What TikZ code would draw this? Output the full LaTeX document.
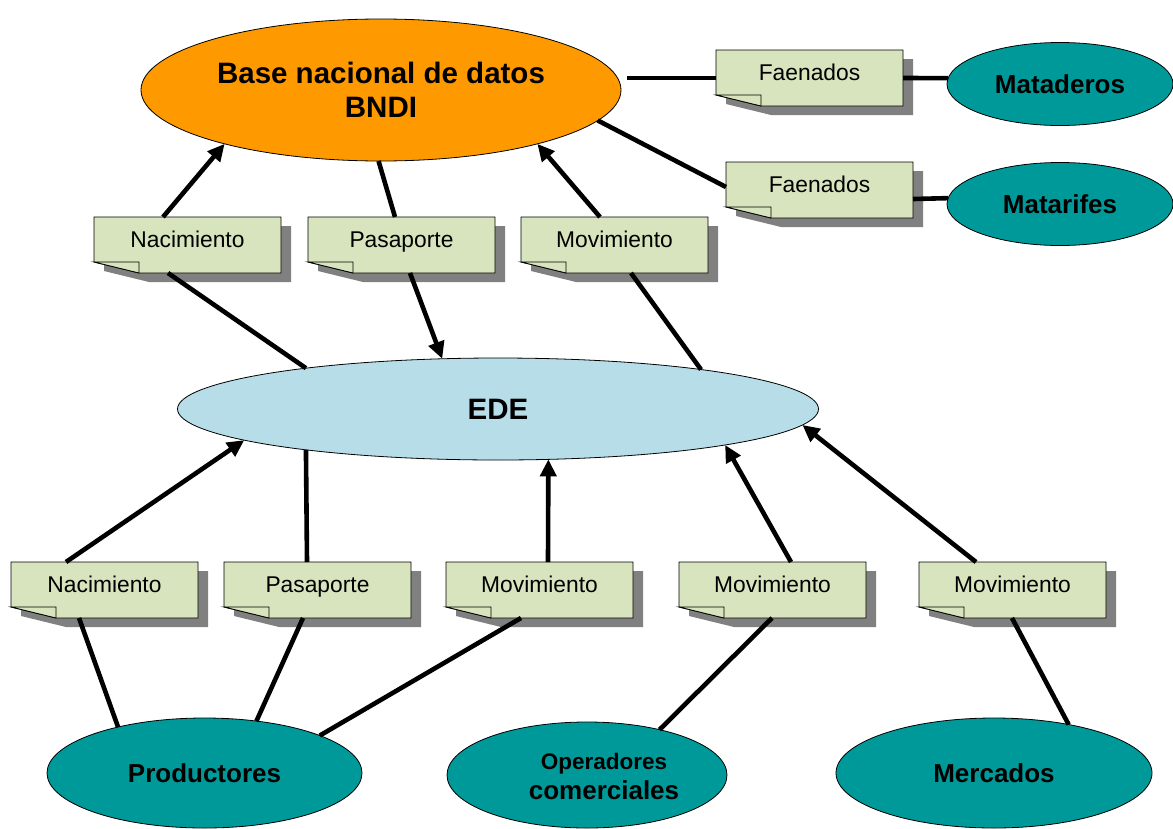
\documentclass[tikz,border=0pt]{standalone}
\usepackage{fontspec}
\setmainfont{Liberation Sans}
\usetikzlibrary{shapes.geometric,arrows.meta,calc}
\definecolor{notegreen}{RGB}{215,228,189}
\definecolor{edeblue}{RGB}{183,222,232}
\definecolor{bndiorange}{RGB}{255,153,0}
\definecolor{tealc}{RGB}{0,153,153}
\definecolor{shadowgray}{RGB}{128,128,128}
\tikzset{
  notetext/.style={inner sep=0pt, outer sep=0pt, minimum width=187pt, minimum height=56pt,
    text height=16pt, text depth=12pt, font=\fontsize{22.8}{26}\selectfont},
  conn/.style={line width=4.6pt},
  arr/.style={conn, -{Triangle[length=17pt,width=16pt]}},
  bigell/.style={ellipse, draw, line width=0.8pt, inner sep=0pt, outer sep=0pt, align=center,
    font=\bfseries\fontsize{29.5}{34}\selectfont},
  tealell/.style={ellipse, draw, line width=0.8pt, fill=tealc, inner sep=0pt, outer sep=0pt,
    align=center, font=\bfseries\fontsize{26}{30}\selectfont},
}
\newcommand{\notebox}[4]{%
  \fill[shadowgray] (#2+10,#3+9) -- ++(187,0) -- ++(0,56) -- ++(-142,0) -- ++(-45,-11) -- cycle;
  \draw[fill=notegreen, line width=0.8pt] (#2,#3) -- ++(187,0) -- ++(0,56) -- ++(-142,0) -- ++(-45,-11) -- cycle;
  \draw[fill=notegreen, line width=0.8pt] (#2,#3+45) -- ++(45,0) -- ++(0,11) -- cycle;
  \node[notetext] (#1) at (#2+93.5,#3+28) {#4};
}
\begin{document}
\begin{tikzpicture}[x=1pt,y=-1pt]
\useasboundingbox (0,0) rectangle (1173,828);
\clip (0,0) rectangle (1173,828);

% ellipses
\node[bigell, fill=bndiorange, minimum width=480pt, minimum height=142pt] (bndi) at (381,90)
  {Base nacional de datos\\BNDI};
\node[bigell, fill=edeblue, minimum width=641pt, minimum height=102pt] (ede) at (498,409) {EDE};
\node[tealell, minimum width=226pt, minimum height=83pt] (mat) at (1060,84) {Mataderos};
\node[tealell, minimum width=226pt, minimum height=83pt] (matf) at (1060,204) {Matarifes};
\node[tealell, minimum width=315pt, minimum height=110pt] (prod) at (204.5,773) {Productores};
\node[tealell, minimum width=280pt, minimum height=106pt] (oper) at (587,775) {};
\node[align=center, inner sep=0pt, font=\bfseries\fontsize{26}{30}\selectfont] (operT) at (604,776)
  {{\fontsize{22.5}{26}\selectfont Operadores}\\comerciales};
\node[tealell, minimum width=316pt, minimum height=110pt] (merc) at (994,773) {Mercados};

% notes
\notebox{nacT}{94}{217}{Nacimiento}
\notebox{pasT}{308}{217}{Pasaporte}
\notebox{movT}{521}{217}{Movimiento}
\notebox{faeA}{716}{50}{Faenados}
\notebox{faeB}{726}{162}{Faenados}
\notebox{nacB}{11}{562}{Nacimiento}
\notebox{pasB}{224}{562}{Pasaporte}
\notebox{movBa}{446}{562}{Movimiento}
\notebox{movBb}{679}{562}{Movimiento}
\notebox{movBc}{919}{562}{Movimiento}

% top connectors
\draw[arr] ($(nacT.north west)+(69,0)$) -- (bndi.199.5);
\draw[conn] ($(pasT.north west)+(87,0)$) -- (bndi.268);
\draw[arr] ($(movT.north west)+(79,0)$) -- (bndi.341.6);
\draw[conn] ($(bndi.east)+(6,-12)$) -- (faeA.west);
\draw[conn] (faeA.east) -- (mat.177);
\draw[conn] (bndi.-8) -- ($(faeB.west)+(0,-3)$);
\draw[conn] ($(faeB.east)+(0,9)$) -- (matf.177.5);

\draw[conn] ($(nacT.south west)+(74,0)$) -- (ede.168.1);
\draw[arr] ($(pasT.south west)+(102,0)$) -- (ede.138.5);
\draw[conn] ($(movT.south west)+(110,0)$) -- (ede.11.9);

% bottom connectors to EDE
\draw[arr] ($(nacB.north west)+(55,0)$) -- (ede.187.1);
\draw[conn] ($(pasB.north west)+(83,0)$) -- (ede.192.1);
\draw[arr] ($(movBa.north west)+(102,0)$) -- (ede.-45.2);
\draw[arr] ($(movBb.north west)+(112,0)$) -- (ede.-9);
\draw[arr] ($(movBc.north west)+(57,0)$) -- (ede.-3.9);

% bottom connectors to actors
\draw[conn] ($(nacB.south west)+(68,0)$) -- (prod.152.4);
\draw[conn] ($(pasB.south west)+(79,0)$) -- (prod.45.3);
\draw[conn] ($(movBa.south west)+(75,0)$) -- (prod.18.9);
\draw[conn] ($(movBb.south west)+(93,0)$) -- (oper.32);
\draw[conn] ($(movBc.south west)+(93,0)$) -- (merc.33.3);
\end{tikzpicture}
\end{document}
